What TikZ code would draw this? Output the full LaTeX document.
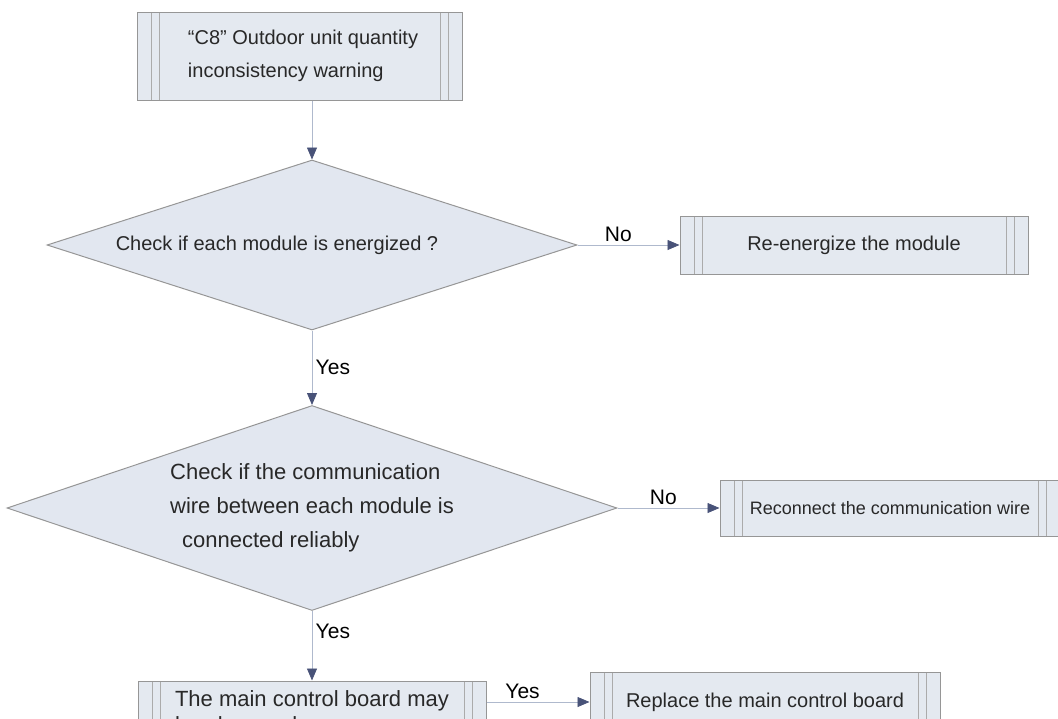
\documentclass[tikz,border=0pt]{standalone}
\usepackage{fontspec}
\setmainfont{Liberation Sans}
\usetikzlibrary{arrows.meta,positioning,shapes.geometric}
\definecolor{boxfill}{RGB}{228,233,240}
\definecolor{diafill}{RGB}{226,231,240}
\definecolor{edgegray}{RGB}{150,150,150}
\definecolor{linegray}{RGB}{175,185,205}
\definecolor{tipblue}{RGB}{72,82,120}
\definecolor{txtgray}{RGB}{40,40,40}

\begin{document}
\begin{tikzpicture}[x=1pt, y=-1pt,
    every node/.style={font=\fontsize{20}{33}\selectfont, text=txtgray},
    subproc/.style={draw=edgegray, fill=boxfill, line width=1pt, inner sep=0pt,
        path picture={
            \foreach \dx in {14,22}{
                \draw[edgegray!80] ([xshift=\dx pt]path picture bounding box.north west) -- ([xshift=\dx pt]path picture bounding box.south west);
                \draw[edgegray!80] ([xshift=-\dx pt]path picture bounding box.north east) -- ([xshift=-\dx pt]path picture bounding box.south east);}
            \draw[gray, line width=2.5pt] (path picture bounding box.north west) -- (path picture bounding box.north east);
        }},
    decide/.style={diamond, aspect=3, draw=edgegray, fill=diafill, line width=1pt, inner sep=0pt},
    flow/.style={draw=linegray, line width=0.8pt, -{Triangle[length=12pt,width=10pt,color=tipblue]}},
    lbl/.style={font=\fontsize{21}{24}\selectfont, text=black}
]
    \useasboundingbox (0,0) rectangle (1058,718);

    \node[subproc, minimum width=325pt, minimum height=88pt, align=left] (warn) at (300,56) {\hspace{6pt}“C8” Outdoor unit quantity\\\hspace{6pt}inconsistency warning};

    \node[decide, minimum width=530pt, minimum height=170pt] (chk1) at (312,245) {Check if each module is energized ?\hspace*{70pt}};
    \node[subproc, minimum width=348pt, minimum height=58pt] (reen) at (854,245) {Re-energize the module};

    \node[decide, minimum width=610pt, minimum height=205pt, align=left, font=\fontsize{22}{34}\selectfont] (chk2) at (312,508) {Check if the communication\\wire between each module is\\\hspace{12pt}connected reliably};
    \node[subproc, minimum width=340pt, minimum height=56pt, font=\fontsize{18}{22}\selectfont] (recon) at (890,508) {Reconnect the communication wire};

    \node[subproc, minimum width=348pt, minimum height=62pt, align=left, font=\fontsize{22}{26}\selectfont] (board) at (312,712) {The main control board may\\be abnormal};
    \node[subproc, minimum width=350pt, minimum height=60pt] (repl) at (765,702) {Replace the main control board};

    \draw[flow] (warn.south -| chk1.north) -- (chk1.north);
    \draw[flow] (chk1.east) -- node[lbl, above, pos=0.4] {No} (reen.west);
    \draw[flow] (chk1.south) -- node[lbl, right, pos=0.5] {Yes} (chk2.north);
    \draw[flow] (chk2.east) -- node[lbl, above, pos=0.45] {No} (recon.west);
    \draw[flow] (chk2.south) -- node[lbl, right, pos=0.3] {Yes} (board.north);
    \draw[flow] (board.east |- repl.west) -- node[lbl, above, pos=0.35] {Yes} (repl.west);
\end{tikzpicture}
\end{document}
